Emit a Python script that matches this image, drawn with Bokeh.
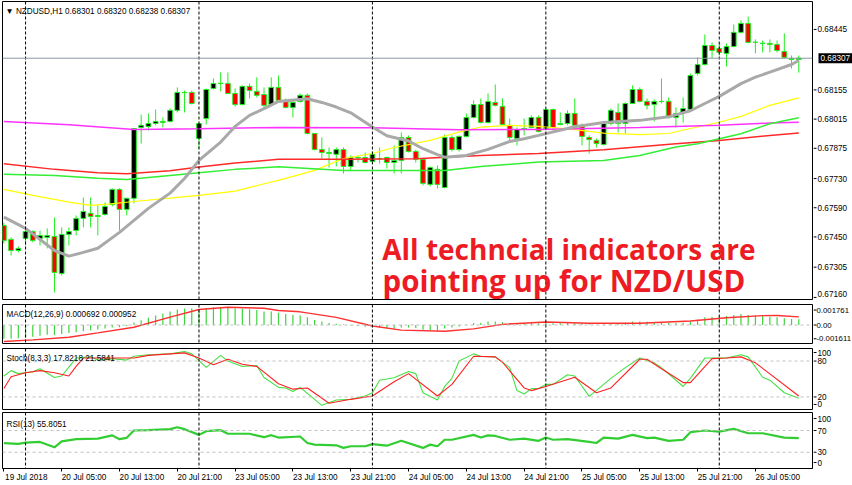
from bokeh.plotting import figure
from bokeh.layouts import column, row
from bokeh.models import Range1d, FixedTicker, Span, Label, ColumnDataSource
from bokeh.core.properties import value
from bokeh.embed import file_html
from bokeh.resources import INLINE

# ---------------- data (H1 bars, bar 0 = 19 Jul 2018 21:00) ----------------
bars = list(range(111))
open_ = [0.67505,0.67438,0.67385,0.67443,0.67476,0.67443,0.67448,0.67452,0.67275,0.67462,
         0.67481,0.67539,0.67563,0.67548,0.67558,0.67606,0.67678,0.67582,0.67635,0.67975,
         0.67980,0.67994,0.67999,0.68004,0.68057,0.68142,0.68143,0.67922,0.68018,0.68162,
         0.68186,0.68186,0.68138,0.68085,0.68172,0.68148,0.68133,0.68085,0.68167,0.68105,
         0.68071,0.68100,0.68129,0.67946,0.67869,0.67850,0.67846,0.67869,0.67788,0.67829,
         0.67831,0.67812,0.67824,0.67831,0.67807,0.67817,0.67927,0.67860,0.67822,0.67702,
         0.67774,0.67687,0.67927,0.67869,0.67932,0.68023,0.68085,0.67999,0.68095,0.68076,
         0.67985,0.67922,0.67968,0.67975,0.68023,0.67970,0.68061,0.67989,0.67994,0.68042,
         0.67985,0.67927,0.67913,0.67893,0.67994,0.68047,0.67994,0.68090,0.68157,0.68100,
         0.68085,0.68099,0.68100,0.68023,0.68047,0.68061,0.68234,0.68277,0.68368,0.68354,
         0.68330,0.68363,0.68431,0.68474,0.68383,0.68378,0.68378,0.68373,0.68339,0.68306,
         0.68301]
high_ = [0.67519,0.67448,0.67404,0.67491,0.67481,0.67481,0.67491,0.67543,0.67496,0.67496,
         0.67553,0.67639,0.67639,0.67601,0.67615,0.67683,0.67683,0.67639,0.67970,0.68037,
         0.68042,0.68061,0.68023,0.68066,0.68167,0.68152,0.68152,0.67999,0.68162,0.68210,
         0.68239,0.68239,0.68162,0.68176,0.68186,0.68215,0.68167,0.68215,0.68224,0.68114,
         0.68109,0.68138,0.68138,0.67946,0.67927,0.67879,0.67879,0.67879,0.67841,0.67841,
         0.67855,0.67860,0.67879,0.67836,0.67889,0.67951,0.67937,0.67869,0.67826,0.67788,
         0.67793,0.67941,0.67937,0.67937,0.68042,0.68105,0.68114,0.68138,0.68181,0.68114,
         0.68018,0.67975,0.68018,0.68033,0.68033,0.68066,0.68066,0.68047,0.68057,0.68114,
         0.67994,0.67937,0.67922,0.67999,0.68066,0.68090,0.68095,0.68176,0.68167,0.68114,
         0.68109,0.68210,0.68119,0.68071,0.68119,0.68234,0.68311,0.68421,0.68383,0.68378,
         0.68378,0.68469,0.68488,0.68507,0.68397,0.68392,0.68397,0.68392,0.68426,0.68320,
         0.68320]
low_ = [0.67419,0.67361,0.67376,0.67409,0.67424,0.67409,0.67395,0.67184,0.67265,0.67409,
        0.67457,0.67496,0.67496,0.67457,0.67553,0.67596,0.67481,0.67553,0.67611,0.67898,
        0.67961,0.67985,0.67975,0.67999,0.68047,0.68047,0.68085,0.67874,0.67989,0.68157,
        0.68148,0.68138,0.68076,0.68081,0.68114,0.68119,0.68071,0.68081,0.68095,0.68066,
        0.68023,0.68095,0.67941,0.67865,0.67826,0.67783,0.67788,0.67754,0.67769,0.67807,
        0.67802,0.67802,0.67802,0.67778,0.67754,0.67754,0.67855,0.67807,0.67697,0.67692,
        0.67683,0.67683,0.67860,0.67860,0.67927,0.68018,0.67994,0.67994,0.68076,0.67985,
        0.67903,0.67889,0.67937,0.67970,0.67951,0.67961,0.67961,0.67985,0.67985,0.67975,
        0.67889,0.67850,0.67879,0.67889,0.67985,0.67951,0.67946,0.68090,0.68095,0.68061,
        0.68004,0.68090,0.68018,0.67975,0.67999,0.68052,0.68224,0.68272,0.68306,0.68320,
        0.68268,0.68359,0.68426,0.68378,0.68330,0.68335,0.68335,0.68335,0.68306,0.68258,
        0.68238]
close_ = [0.67433,0.67385,0.67395,0.67476,0.67433,0.67457,0.67457,0.67280,0.67462,0.67476,
          0.67539,0.67572,0.67548,0.67553,0.67596,0.67678,0.67582,0.67635,0.67970,0.67985,
          0.67994,0.68004,0.68004,0.68057,0.68143,0.68143,0.68090,0.67994,0.68157,0.68186,
          0.68187,0.68138,0.68085,0.68172,0.68152,0.68129,0.68081,0.68167,0.68105,0.68071,
          0.68095,0.68129,0.67946,0.67869,0.67855,0.67855,0.67869,0.67788,0.67831,0.67831,
          0.67807,0.67846,0.67826,0.67807,0.67817,0.67927,0.67860,0.67822,0.67707,0.67783,
          0.67702,0.67927,0.67869,0.67932,0.68023,0.68085,0.67999,0.68100,0.68081,0.67989,
          0.67927,0.67965,0.67970,0.68023,0.67956,0.68061,0.67975,0.67994,0.68042,0.67985,
          0.67932,0.67917,0.67898,0.67994,0.68057,0.67994,0.68090,0.68157,0.68100,0.68081,
          0.68100,0.68100,0.68023,0.68042,0.68066,0.68224,0.68277,0.68368,0.68344,0.68335,
          0.68363,0.68431,0.68474,0.68383,0.68384,0.68379,0.68373,0.68344,0.68311,0.68301,
          0.68307]

# moving averages (sampled along the drawn lines)
ma_gray_x = [0,3,7,9,11,13,16,18,20,23,25,27,30,32,34,36,38,42,44,46,48,51,53,56,58,60,61,64,67,70,
             72,74,79,83,88,92,95,97,99,102,104,106,109,110]
ma_gray_y = [0.67545,0.67491,0.67385,0.67358,0.67376,0.67396,0.67472,0.67529,0.67587,0.67660,
             0.67730,0.67817,0.67905,0.67980,0.68033,0.68065,0.68100,0.68113,0.68095,0.68073,
             0.68045,0.67977,0.67935,0.67910,0.67873,0.67845,0.67832,0.67841,0.67870,0.67908,
             0.67921,0.67937,0.67978,0.67999,0.68009,0.68026,0.68055,0.68090,0.68124,0.68185,
             0.68216,0.68240,0.68277,0.68296]
ma_yellow_x = [0,4,9,12,14,18,23,27,32,36,38,43,47,51,54,59,63,66,70,74,79,83,88,92,95,99,102,106,110]
ma_yellow_y = [0.67678,0.67649,0.67617,0.67601,0.67606,0.67620,0.67636,0.67649,0.67670,0.67705,
               0.67721,0.67769,0.67826,0.67850,0.67879,0.67913,0.67953,0.67977,0.67985,0.67980,
               0.67965,0.67948,0.67941,0.67946,0.67970,0.68000,0.68028,0.68081,0.68117]
ma_magenta_x = [0,9,18,27,38,51,63,74,88,99,106,110]
ma_magenta_y = [0.68004,0.67988,0.67965,0.67969,0.67975,0.67974,0.67964,0.67965,0.67975,0.67985,
                0.67996,0.68000]
ma_red_x = [0,7,13,17,23,27,32,38,47,57,66,74,83,93,99,106,110]
ma_red_y = [0.67801,0.67774,0.67758,0.67753,0.67767,0.67785,0.67804,0.67822,0.67823,0.67825,
            0.67841,0.67850,0.67868,0.67897,0.67913,0.67937,0.67948]
ma_green_x = [0,7,13,17,23,27,32,38,47,57,61,66,74,83,88,93,96,102,106,110]
ma_green_y = [0.67751,0.67745,0.67732,0.67726,0.67745,0.67758,0.67774,0.67786,0.67769,0.67769,
              0.67769,0.67788,0.67809,0.67817,0.67841,0.67881,0.67897,0.67945,0.67993,0.68022]
last_price = 0.68307
price_ticks = [0.67305, 0.67450, 0.67590, 0.67730, 0.67875, 0.68015, 0.68155, 0.68445]
price_tick_low = 0.67160

# MACD(12,26,9)
macd_main = [-0.00160,-0.00160,-0.00155,-0.00148,-0.00138,-0.00125,-0.00115,-0.00118,-0.00105,-0.00095,
             -0.00085,-0.00072,-0.00062,-0.00053,-0.00042,-0.00030,-0.00025,-0.00012,0.00030,0.00055,
             0.00085,0.00112,0.00135,0.00158,0.00182,0.00195,0.00198,0.00185,0.00200,0.00210,
             0.00212,0.00205,0.00195,0.00192,0.00185,0.00175,0.00160,0.00158,0.00145,0.00130,
             0.00120,0.00115,0.00090,0.00060,0.00040,0.00025,0.00015,0.00005,-0.00005,-0.00012,
             -0.00020,-0.00025,-0.00032,-0.00040,-0.00045,-0.00030,-0.00028,-0.00035,-0.00055,-0.00060,
             -0.00068,-0.00040,-0.00030,-0.00018,0.00005,0.00025,0.00028,0.00040,0.00042,0.00035,
             0.00025,0.00022,0.00020,0.00025,0.00020,0.00028,0.00022,0.00020,0.00025,0.00022,
             0.00015,0.00008,0.00003,0.00010,0.00018,0.00020,0.00028,0.00040,0.00040,0.00038,
             0.00036,0.00035,0.00028,0.00025,0.00026,0.00045,0.00065,0.00090,0.00098,0.00102,
             0.00105,0.00118,0.00128,0.00118,0.00112,0.00105,0.00098,0.00090,0.00080,0.00072,
             0.000692]
macd_sig_x = [0,4,9,13,18,23,27,31,36,38,41,46,51,55,61,65,69,75,81,88,95,100,105,107,110]
macd_sig_y = [-0.00194,-0.00174,-0.00143,-0.00092,-0.00026,0.00092,0.00182,0.00209,0.00197,0.00170,
              0.00155,0.00090,-0.00012,-0.00060,-0.00073,-0.00045,0.00008,0.00036,0.00020,0.00020,
              0.00048,0.00085,0.00110,0.00112,0.000952]
macd_ticks = [0.001761, 0.0, -0.001611]
macd_tick_labels = ["0.001761", "0.00", "-0.001611"]

# Stochastic(8,3,3)
stoch_k_x = [0,1,2,4,5,7,8,10,12,13,15,17,18,20,23,25,26,28,30,31,33,35,36,38,39,40,41,44,46,48,
             50,51,52,54,56,57,58,60,61,62,63,65,66,68,70,71,72,73,74,75,76,78,79,81,84,86,88,90,91,94,
             95,97,99,100,102,103,105,106,108,110]
stoch_k_y = [55,64,59,62,67,52.6,55,85,87,81.6,84,81.6,88,90.5,92,96,92,69.5,89.5,80,
             71,72.6,52.6,36,35,29,36,6,15,16,21.6,27,48,52,62.5,59,27,14.7,37.5,51,
             80,92,88,87,69,30.6,25,34,34,41,41,57,55,21,51,69,85,77,69,37.5,
             51,85,85,85,90.6,87,53,48,27,17.82]
stoch_d_x = [0,1,3,5,7,9,10,11,15,18,20,25,27,29,31,33,35,38,40,42,45,48,51,54,56,60,62,65,68,69,
             72,73,75,79,82,84,88,89,91,94,95,98,100,102,104,110]
stoch_d_y = [34,53.7,60.5,64,60.5,55,71,85,85,85,89.5,93.7,85,73.7,83,74.7,71,42,33,35,
             9.4,16,21.6,45.5,59,21.6,41,88,87,78,35,30.6,37.5,53,27,35,83,83,67,44,
             44,84,85,87,77,21.58]
stoch_levels = [20, 80]
stoch_tick_labels = ["100", "80", "20", "0"]

# RSI(13)
rsi_x = [0,2,3,5,7,8,10,13,15,16,17,18,20,23,24,25,27,28,30,31,34,36,37,38,41,42,43,46,47,48,
         50,51,53,55,58,59,60,61,62,65,66,67,68,70,72,74,75,76,78,81,82,83,85,87,89,90,92,94,95,97,
         99,101,103,105,108,110]
rsi_y = [46.6,45.4,47.8,49,39,50,54,55,61,54,56.5,70,70.6,72.5,76,72.5,62,68.8,70.6,64,
         64,57.7,61.4,57,59,47,44,42.7,38,41,41,45,42,51,38,44,41,53,53,62,
         57,61,60,53,55,51,57,53,54,49,47,57,55,62,56,57,51,53,67,70,
         68,73,65,65,57,55.8]
rsi_levels = [30, 70]
rsi_tick_labels = ["100", "70", "30", "0"]

day_starts = [3, 27, 51, 75, 99]
time_ticks = [0, 8, 16, 24, 32, 40, 48, 56, 64, 72, 80, 88, 96, 104]
time_labels = ["19 Jul 2018", "20 Jul 05:00", "20 Jul 13:00", "20 Jul 21:00", "23 Jul 05:00",
               "23 Jul 13:00", "23 Jul 21:00", "24 Jul 05:00", "24 Jul 13:00", "24 Jul 21:00",
               "25 Jul 05:00", "25 Jul 13:00", "25 Jul 21:00", "26 Jul 05:00"]

# ---------------- styling / layout ----------------
FONT = "Liberation Sans"
FS = "8.2px"
LIME = "#22ee22"
FW = 810          # chart frame width
AW = 39           # price-scale column width
XR = (-0.19, 111.9)
LABEL_SHIFT = 3.1  # half a time label (in bars): MT4 labels start at their tick


def make(fh, yr, top=1, bottom=1, xaxis=None):
    p = figure(frame_width=FW, frame_height=fh, min_border=0, min_border_left=2,
               min_border_top=top, min_border_bottom=bottom, min_border_right=1,
               x_range=Range1d(*XR), y_range=Range1d(*yr),
               toolbar_location=None, output_backend="svg",
               y_axis_location=None, x_axis_location=xaxis,
               background_fill_color="white", border_fill_color="white",
               outline_line_color="black", outline_line_width=1)
    p.grid.visible = False
    for d in day_starts:
        p.add_layout(Span(location=d, dimension="height", line_color="black",
                          line_dash="3 2", line_width=1))
    return p


def scale_col(p, fh, top, bottom, tick_pos, tick_text, low_pos=None, low_text=None,
              fs=FS, tx=4):
    a = figure(frame_width=AW, frame_height=fh, min_border=0, min_border_top=top,
               min_border_bottom=bottom, x_range=Range1d(0, AW), y_range=p.y_range,
               toolbar_location=None, output_backend="svg",
               x_axis_location=None, y_axis_location=None, outline_line_color=None,
               background_fill_color="white", border_fill_color="white")
    a.grid.visible = False
    marks = list(tick_pos) + ([low_pos] if low_pos is not None else [])
    a.segment(x0=[0] * len(marks), y0=marks, x1=[3] * len(marks), y1=marks,
              line_color="black", line_width=1)
    a.text(x=[tx] * len(tick_pos), y=tick_pos, text=tick_text,
           text_font=value(FONT), text_font_size=value(fs), text_color="black",
           text_baseline="middle", text_align="left")
    if low_pos is not None:
        a.text(x=[tx], y=[low_pos], text=[low_text],
               text_font=value(FONT), text_font_size=value(fs), text_color="black",
               text_baseline="bottom", text_align="left")
    return a


def separator(h):
    s = figure(frame_width=FW + 1, frame_height=h, min_border=0, min_border_left=2,
               x_range=Range1d(0, 1), y_range=Range1d(0, 1),
               toolbar_location=None, output_backend="svg",
               x_axis_location=None, y_axis_location=None,
               background_fill_color="#a0a0a0", border_fill_color="white",
               outline_line_color=None)
    s.grid.visible = False
    return s


def header(p, fh, text, x=4, below=10):
    p.add_layout(Label(x=x, y=fh - below, x_units="screen", y_units="screen", text=text,
                       text_font=FONT, text_font_size=FS, text_color="black",
                       text_baseline="alphabetic"))


# ---------------- main price panel ----------------
MH = 298
pm = make(MH, (0.67150, 0.68579))

src = ColumnDataSource(dict(
    x=bars, o=open_, h=high_, l=low_, c=close_,
    top=[max(a, b) for a, b in zip(open_, close_)],
    bottom=[min(a, b) for a, b in zip(open_, close_)],
    color=["black" if c >= o else "#ff0000" for o, c in zip(open_, close_)],
))
pm.add_layout(Span(location=last_price, dimension="width", line_color="#8a97a6", line_width=1))
pm.segment(x0="x", y0="l", x1="x", y1="h", source=src, line_color=LIME, line_width=1)
pm.vbar(x="x", width=0.66, top="top", bottom="bottom", source=src,
        fill_color="color", line_color=LIME, line_width=1)

pm.line(ma_yellow_x, ma_yellow_y, line_color="#ffff00", line_width=1.2)
pm.line(ma_magenta_x, ma_magenta_y, line_color="#ff33ff", line_width=1.5)
pm.line(ma_red_x, ma_red_y, line_color="#ff2a2a", line_width=1.5)
pm.line(ma_green_x, ma_green_y, line_color="#33ee33", line_width=1.5)
pm.line(ma_gray_x, ma_gray_y, line_color="#a9a9a9", line_width=3)

header(pm, MH, "\u25bc NZDUSD,H1  0.68301 0.68320 0.68238 0.68307", x=3, below=9.7)

pm.add_layout(Label(x=52.36, y=0.673945, text="All techncial indicators are",
                    text_font="Open Sans", text_font_style="bold", text_font_size="28px",
                    text_color="#ed1c24", text_baseline="middle"))
pm.add_layout(Label(x=52.4, y=0.672430, text="pointing up for NZD/USD",
                    text_font="Open Sans", text_font_style="bold", text_font_size="29.5px",
                    text_color="#ed1c24", text_baseline="middle"))

pax = scale_col(pm, MH, 1, 1, price_ticks, ["%.5f" % t for t in price_ticks],
                low_pos=price_tick_low, low_text="%.5f" % price_tick_low)
pax.text(x=[5], y=[last_price], text=["%.5f" % last_price],
         text_font=value(FONT), text_font_size=value(FS), text_color="white",
         text_baseline="middle", text_align="left",
         background_fill_color="black", padding=2)

# ---------------- MACD ----------------
AH = 39
pa = make(AH, (-0.00217, 0.00241))
pa.add_layout(Span(location=0, dimension="width", line_color="#c0c0c0", line_dash="3 3"))
pa.segment(x0=bars, y0=[0] * len(bars), x1=bars, y1=macd_main, line_color="#3fd43f", line_width=1.2)
pa.line(macd_sig_x, macd_sig_y, line_color="#ff3030", line_width=1.4)
header(pa, AH, "MACD(12,26,9) 0.000692 0.000952", x=4, below=10.3)
pac = scale_col(pa, AH, 1, 1, macd_ticks, macd_tick_labels, fs="7.8px", tx=3)

# ---------------- Stochastic ----------------
SH = 61
ps = make(SH, (-1, 101))
for lv in stoch_levels:
    ps.add_layout(Span(location=lv, dimension="width", line_color="#c0c0c0", line_dash="3 3"))
ps.line(stoch_k_x, stoch_k_y, line_color="#45e045", line_width=1.1)
ps.line(stoch_d_x, stoch_d_y, line_color="#ff2020", line_width=1.1)
header(ps, SH, "Stoch(8,3,3) 17.8218 21.5841", x=4, below=9.7)
# MT4 pulls the 100/0 captions inside the window
psc = scale_col(ps, SH, 1, 1, [94.3, 80, 20, 7.4], stoch_tick_labels)

# ---------------- RSI + time axis ----------------
RH = 56
pr = make(RH, (0, 103.2), top=2, bottom=16, xaxis="below")
for lv in rsi_levels:
    pr.add_layout(Span(location=lv, dimension="width", line_color="#c0c0c0", line_dash="3 3"))
pr.line(rsi_x, rsi_y, line_color="#32cd32", line_width=2.2)
header(pr, RH, "RSI(13) 55.8051", x=4, below=12.3)
prc = scale_col(pr, RH, 2, 16, [92.1, 70, 30, 11], rsi_tick_labels)

lab_pos = [t + LABEL_SHIFT for t in time_ticks]
xa = pr.xaxis[0]
xa.ticker = FixedTicker(ticks=lab_pos, minor_ticks=time_ticks)
xa.major_label_overrides = {p: lab for p, lab in zip(lab_pos, time_labels)}
xa.major_tick_line_color = None
xa.major_tick_out = 3
xa.major_tick_in = 0
xa.minor_tick_line_color = "black"
xa.minor_tick_out = 3
xa.minor_tick_in = 0
xa.axis_line_color = "black"
xa.major_label_text_font = FONT
xa.major_label_text_font_size = FS
xa.major_label_text_color = "black"
xa.major_label_standoff = 1

layout = column(row(pm, pax, spacing=0), separator(3), row(pa, pac, spacing=0), separator(3),
                row(ps, psc, spacing=0), row(pr, prc, spacing=0), spacing=0)

open("out.html", "w").write(file_html(layout, INLINE))
